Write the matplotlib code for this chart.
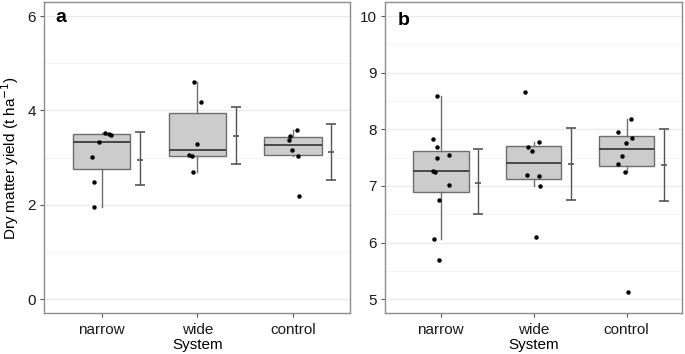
import numpy as np
from matplotlib import pyplot as plt

plt.rcParams['font.family'] = ['Liberation Sans', 'DejaVu Sans']

systems = ['narrow', 'wide', 'control']

# panel a: yield per plot
a_narrow = [3.53, 3.51, 3.49, 3.33, 3.01, 2.49, 1.96]
a_wide = [4.61, 4.18, 3.28, 3.05, 2.69, 3.03]
a_control = [3.58, 3.46, 3.38, 3.16, 3.03, 2.18]
# jitter offsets
a_narrow_jit = [0.035, 0.080, 0.094, -0.031, -0.101, -0.080, -0.080]
a_wide_jit = [-0.038, 0.038, 0.0, -0.084, -0.045, -0.060]
a_control_jit = [0.038, -0.031, -0.045, -0.007, 0.052, 0.059]
# model means and intervals
a_mean = [2.95, 3.45, 3.11]
a_low = [2.42, 2.87, 2.53]
a_high = [3.54, 4.07, 3.72]

# panel b
b_narrow = [8.59, 7.83, 7.68, 7.54, 7.49, 7.27, 7.24, 7.01, 6.76, 6.07, 5.70]
b_wide = [8.66, 7.77, 7.68, 7.61, 7.19, 7.17, 7.00, 6.09]
b_control = [8.19, 7.95, 7.85, 7.76, 7.53, 7.38, 7.24, 5.12]
b_narrow_jit = [-0.043, -0.086, -0.043, 0.086, -0.036, -0.079, -0.061, 0.093, -0.022, -0.068, -0.014]
b_wide_jit = [-0.097, 0.061, -0.057, -0.022, -0.072, 0.054, 0.068, 0.029]
b_control_jit = [0.050, -0.090, 0.057, -0.004, -0.050, -0.097, -0.018, 0.011]
b_mean = [7.06, 7.38, 7.37]
b_low = [6.50, 6.75, 6.74]
b_high = [7.65, 8.03, 8.00]


def panel(ax, groups, jits, mean, low, high, ylim, major, minor, letter, lx, ly):
    pos = np.arange(1, 4)
    for y in minor:
        ax.axhline(y, color='#f2f2f2', lw=0.6, zorder=0)
    for y in major:
        ax.axhline(y, color='#ebebeb', lw=1.0, zorder=0)
    ax.boxplot(groups, positions=pos, widths=0.6, patch_artist=True,
               showfliers=False, showcaps=False,
               boxprops=dict(facecolor='#cccccc', edgecolor='#6e6e6e', lw=1.0),
               whiskerprops=dict(color='#6e6e6e', lw=1.0),
               medianprops=dict(color='#3c3c3c', lw=1.3), zorder=2)
    for p, g, j in zip(pos, groups, jits):
        ax.plot(p + np.array(j), g, 'o', color='black', ms=2.2, zorder=3)
    m = np.array(mean)
    err = [m - np.array(low), np.array(high) - m]
    ax.errorbar(pos + 0.4, m, yerr=err, fmt='_', color='#555555', ms=4,
                capsize=3.6, elinewidth=1.0, capthick=1.0, mew=1.2, zorder=2)
    ax.set_xlim(0.4, 3.6)
    ax.set_ylim(*ylim)
    ax.set_yticks(major)
    ax.set_xticks(pos)
    ax.set_xticklabels(systems)
    ax.set_xlabel('System', fontsize=11, labelpad=1)
    ax.tick_params(labelsize=11, length=3, color='#555555', labelcolor='#1a1a1a', pad=3)
    ax.tick_params(axis='x', pad=4)
    for s in ax.spines.values():
        s.set_color('#8c8c8c')
        s.set_linewidth(1.0)
    ax.text(lx, ly, letter, transform=ax.transAxes, fontsize=14,
            fontweight='bold', va='baseline', ha='left')


fig = plt.figure(figsize=(6.85, 3.54), dpi=100)
ax1 = fig.add_axes([0.0647, 0.115, 0.4467, 0.8794])
ax2 = fig.add_axes([0.562, 0.115, 0.434, 0.8794])

panel(ax1, [a_narrow, a_wide, a_control],
      [a_narrow_jit, a_wide_jit, a_control_jit],
      a_mean, a_low, a_high, (-0.3, 6.3), [0, 2, 4, 6], [1, 3, 5], 'a',
      0.037, 0.936)
panel(ax2, [b_narrow, b_wide, b_control],
      [b_narrow_jit, b_wide_jit, b_control_jit],
      b_mean, b_low, b_high, (4.75, 10.25), [5, 6, 7, 8, 9, 10],
      [5.5, 6.5, 7.5, 8.5, 9.5], 'b', 0.042, 0.926)

ax1.set_ylabel('Dry matter yield (t ha$^{-1}$)', fontsize=11, labelpad=5)

fig.savefig('out.png', dpi=100)
